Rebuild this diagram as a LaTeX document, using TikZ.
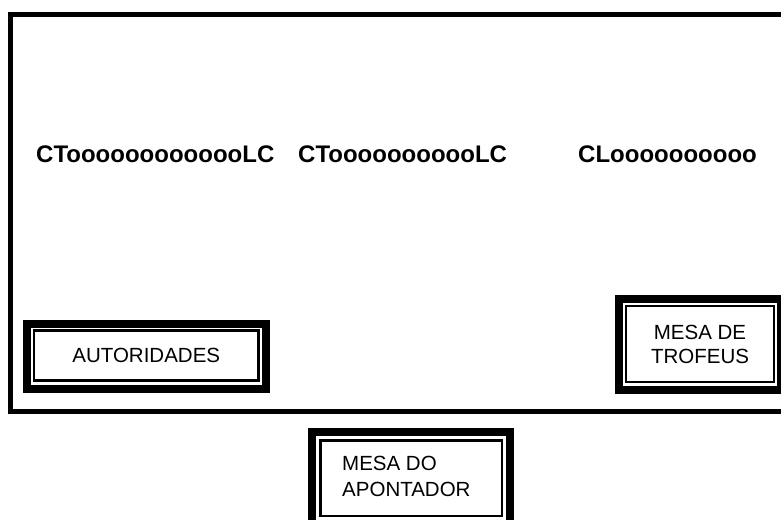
\documentclass[tikz,border=0pt]{standalone}
\usepackage{fontspec}
\setmainfont{Liberation Sans}
\begin{document}
\begin{tikzpicture}[x=1pt,y=-1pt,
  band/.style={draw,line width=8pt},
  innerbox/.style={draw,line width=2.5pt,inner sep=0pt,outer sep=0pt,align=center,font=\fontsize{20.5}{24.5}\selectfont},
  bigtext/.style={anchor=base west,inner sep=0pt,font=\fontsize{24}{28}\bfseries\selectfont}]
\useasboundingbox (0,0) rectangle (781,519);
\clip (0,0) rectangle (781,519);
% main hall
\draw[line width=5pt] (10.3,14.5) rectangle (820,411.7);
% texts
\node[bigtext] (t1) at (36,162.5) {CTooooooooooooLC};
\node[bigtext] (t2) at (298,162.5) {CTooooooooooLC};
\node[bigtext] (t3) at (578,162.5) {CLoooooooooo};
% AUTORIDADES
\node[innerbox,minimum width=224.5pt,minimum height=50pt] (aut) at (146.25,355.5) {AUTORIDADES};
\draw[band] ([xshift=-7pt,yshift=7pt]aut.north west) rectangle ([xshift=7pt,yshift=-8pt]aut.south east);
% MESA DE TROFEUS
\node[innerbox,minimum width=147.6pt,minimum height=76pt] (trof) at (700,344.2) {MESA DE\\TROFEUS};
\draw[band] ([xshift=-7.5pt,yshift=7.5pt]trof.north west) rectangle ([xshift=7.5pt,yshift=-7.5pt]trof.south east);
% MESA DO APONTADOR
\node[innerbox,minimum width=181.5pt,minimum height=75.5pt] (apon) at (411.25,478.25) {};
\node[anchor=base west,inner sep=0pt,align=left,font=\fontsize{20.5}{25.5}\selectfont] (apontxt) at (342,496) {MESA DO\\APONTADOR};
\draw[band] ([xshift=-8.5pt,yshift=8.5pt]apon.north west) rectangle ([xshift=7.5pt,yshift=-8pt]apon.south east);
\end{tikzpicture}
\end{document}
